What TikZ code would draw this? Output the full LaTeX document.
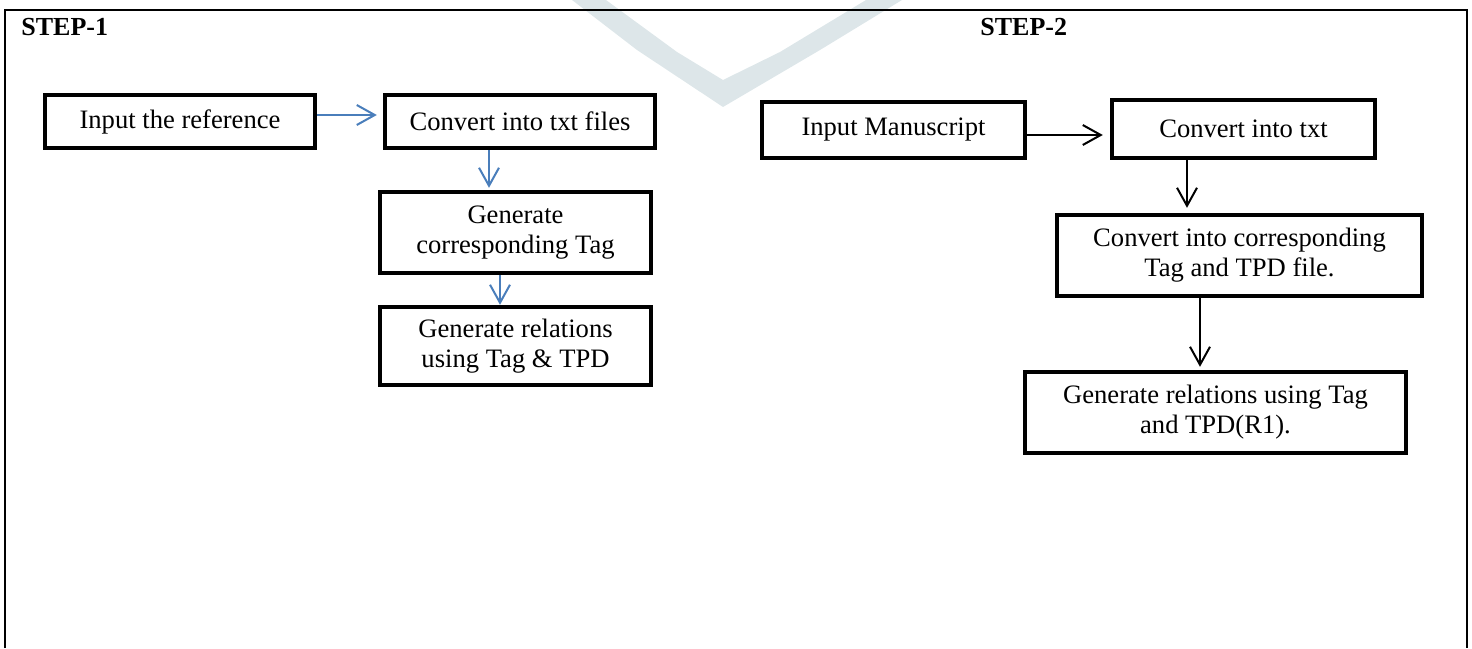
\documentclass[tikz,border=0pt]{standalone}
\usepackage{fontspec}
\setmainfont{Liberation Serif}
\usetikzlibrary{arrows.meta}
\definecolor{arrowblue}{RGB}{74,126,187}
\definecolor{markgray}{RGB}{221,230,233}
\begin{document}
\begin{tikzpicture}[x=0.5pt,y=-0.5pt,
        box/.style={rectangle,draw=black,line width=2.2pt,
          inner sep=2pt,align=center,font=\fontsize{13.3}{15}\selectfont},
        steplabel/.style={anchor=base west,inner sep=0pt,
          font=\fontsize{13}{15}\selectfont\bfseries},
        bluearr/.style={draw=arrowblue,line width=1pt,
          -{Straight Barb[length=9pt,width=10pt]}},
        blackarr/.style={draw=black,line width=1pt,
          -{Straight Barb[length=9pt,width=10pt]}}]
      \useasboundingbox (0,0) rectangle (1472,648);
      % faint mark behind the frame
      \fill[markgray] (572,0) -- (637,50) -- (723,107) -- (820,50) -- (902,0)
        -- (866,0) -- (780,52) -- (723,80) -- (677,52) -- (606,0) -- cycle;
      \draw[line width=1.4pt] (5,648) -- (5,10) -- (1467,10) -- (1467,648);
      \node (s1) at (21,35) [steplabel] {STEP-1};
      \node (s2) at (980,35) [steplabel] {STEP-2};
      % step 1
      \node (1) at (180,121.5) [box,minimum width=135pt,minimum height=26.5pt] {Input the reference};
      \node (2) at (520,121.5) [box,minimum width=135pt,minimum height=26.5pt] {Convert into txt files};
      \node (3) at (515.5,232.5) [box,minimum width=135.5pt,minimum height=40.5pt] {Generate\\corresponding Tag};
      \node (4) at (515.5,346) [box,minimum width=135.5pt,minimum height=39pt] {Generate relations\\using Tag \& TPD};
      % step 2
      \node (5) at (893.5,130) [box,minimum width=131.5pt,minimum height=28pt] {Input Manuscript};
      \node (6) at (1243.5,129) [box,minimum width=131.5pt,minimum height=29pt] {Convert into txt};
      \node (7) at (1239.5,255.5) [box,minimum width=182.5pt,minimum height=40.5pt] {Convert into corresponding\\Tag and TPD file.};
      \node (8) at (1215.5,412.5) [box,minimum width=190.5pt,minimum height=40.5pt] {Generate relations using Tag\\and TPD(R1).};
      \draw ([yshift=3.25pt]1.east) edge[bluearr,shorten >=3pt] ([yshift=3.25pt]2.west);
      \draw ([xshift=-15.5pt]2.south) edge[bluearr,shorten >=1pt] ([xshift=-15.5pt]2.south |- 3.north);
      \draw ([xshift=-7.75pt]3.south) edge[bluearr] ([xshift=-7.75pt]3.south |- 4.north);
      \draw ([yshift=-2.5pt]5.east) edge[blackarr,shorten >=3.5pt] ([yshift=-2.5pt]5.east -| 6.west);
      \draw ([xshift=-28.25pt]6.south) edge[blackarr,shorten >=2.5pt] ([xshift=-28.25pt]6.south |- 7.north);
      \draw ([xshift=-19.75pt]7.south) edge[blackarr,shorten >=1.5pt] ([xshift=-19.75pt]7.south |- 8.north);
\end{tikzpicture}
\end{document}
